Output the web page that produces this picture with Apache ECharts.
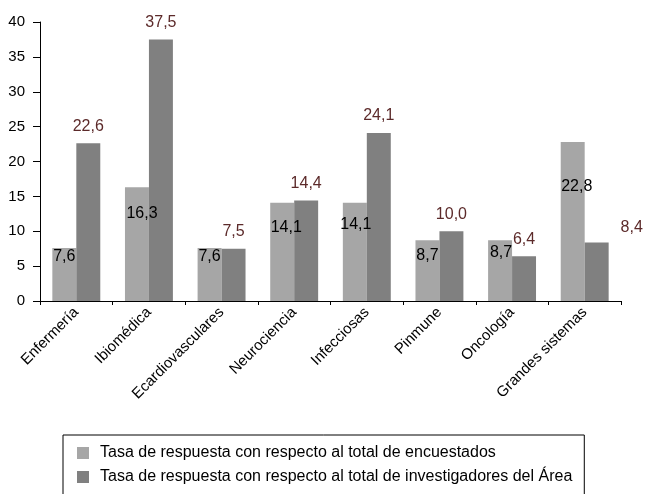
<!DOCTYPE html>
<html>
<head>
<meta charset="utf-8">
<script src="https://cdn.jsdelivr.net/npm/echarts@6/dist/echarts.min.js"></script>
<style>html,body{margin:0;padding:0;background:#fff;}#c{width:646px;height:494px;}</style>
</head>
<body>
<div id="c"></div>
<script>
var categories = ['Enfermería','Ibiomédica','Ecardiovasculares','Neurociencia','Infecciosas','Pinmune','Oncología','Grandes sistemas'];
var seriesNames = ['Tasa de respuesta con respecto al total de encuestados','Tasa de respuesta con respecto al total de investigadores del Área'];
var encuestados = [7.6, 16.3, 7.6, 14.1, 14.1, 8.7, 8.7, 22.8];
var investigadores = [22.6, 37.5, 7.5, 14.4, 24.1, 10.0, 6.4, 8.4];
var yTicks = [0, 5, 10, 15, 20, 25, 30, 35, 40];

// label placement tweaks (pixels) as in the original figure
var lightLabelOffsets = [[0,1],[5,18],[0,1],[4,17],[1,14],[0,7],[1,4],[4,37]];
var darkLabelOffsets = [[0,0],[0,0],[0,0],[0,0],[0,0],[0,0],[0,0],[35,2]];

function fmt(v){ return v.toFixed(1).replace('.', ','); }

var FONT = '"Liberation Sans", Arial, sans-serif';
var chart = echarts.init(document.getElementById('c'), null, {renderer:'canvas'});
chart.setOption({
  animation: false,
  backgroundColor: '#fff',
  textStyle: {fontFamily: FONT},
  grid: {left: 40, right: 25, top: 22, bottom: 193, containLabel: false},
  legend: {
    orient: 'vertical',
    left: 63, top: 435,
    height: 120,
    padding: [10, 12, 30, 14],
    borderColor: '#000', borderWidth: 1,
    itemWidth: 12, itemHeight: 12, itemGap: 8,
    icon: 'rect',
    textStyle: {fontFamily: FONT, fontSize: 16, color: '#000', padding: [0,0,0,6]},
    data: seriesNames
  },
  xAxis: {
    type: 'category',
    data: categories,
    axisLine: {lineStyle: {color: '#000', width: 1}},
    axisTick: {show: true, length: 4, interval: 0, lineStyle: {color: '#000'}},
    axisLabel: {rotate: 45, interval: 0, fontSize: 15, color: '#000', margin: 9, fontFamily: FONT}
  },
  yAxis: {
    type: 'value',
    min: yTicks[0], max: yTicks[yTicks.length-1], interval: 5,
    splitLine: {show: false},
    axisLine: {show: true, lineStyle: {color: '#000', width: 1}},
    axisTick: {show: true, length: 7, lineStyle: {color: '#000'}},
    axisLabel: {fontSize: 15, color: '#000', margin: 15, fontFamily: FONT}
  },
  series: [
    {
      name: seriesNames[0],
      type: 'bar',
      barGap: '0%',
      barCategoryGap: '34%',
      itemStyle: {color: '#a6a6a6'},
      data: encuestados.map(function(v, i){
        return {value: v, label: {offset: lightLabelOffsets[i]}};
      }),
      label: {
        show: true, position: 'insideTop', distance: 0,
        fontSize: 16, color: '#000', fontFamily: FONT,
        formatter: function(p){ return fmt(p.value); }
      }
    },
    {
      name: seriesNames[1],
      type: 'bar',
      barGap: '0%',
      barCategoryGap: '34%',
      itemStyle: {color: '#808080'},
      data: investigadores.map(function(v, i){
        return {value: v, label: {offset: darkLabelOffsets[i]}};
      }),
      label: {
        show: true, position: 'top', distance: 9,
        fontSize: 16, color: '#5c2a2a', fontFamily: FONT,
        formatter: function(p){ return fmt(p.value); }
      }
    }
  ]
});
</script>
</body>
</html>
